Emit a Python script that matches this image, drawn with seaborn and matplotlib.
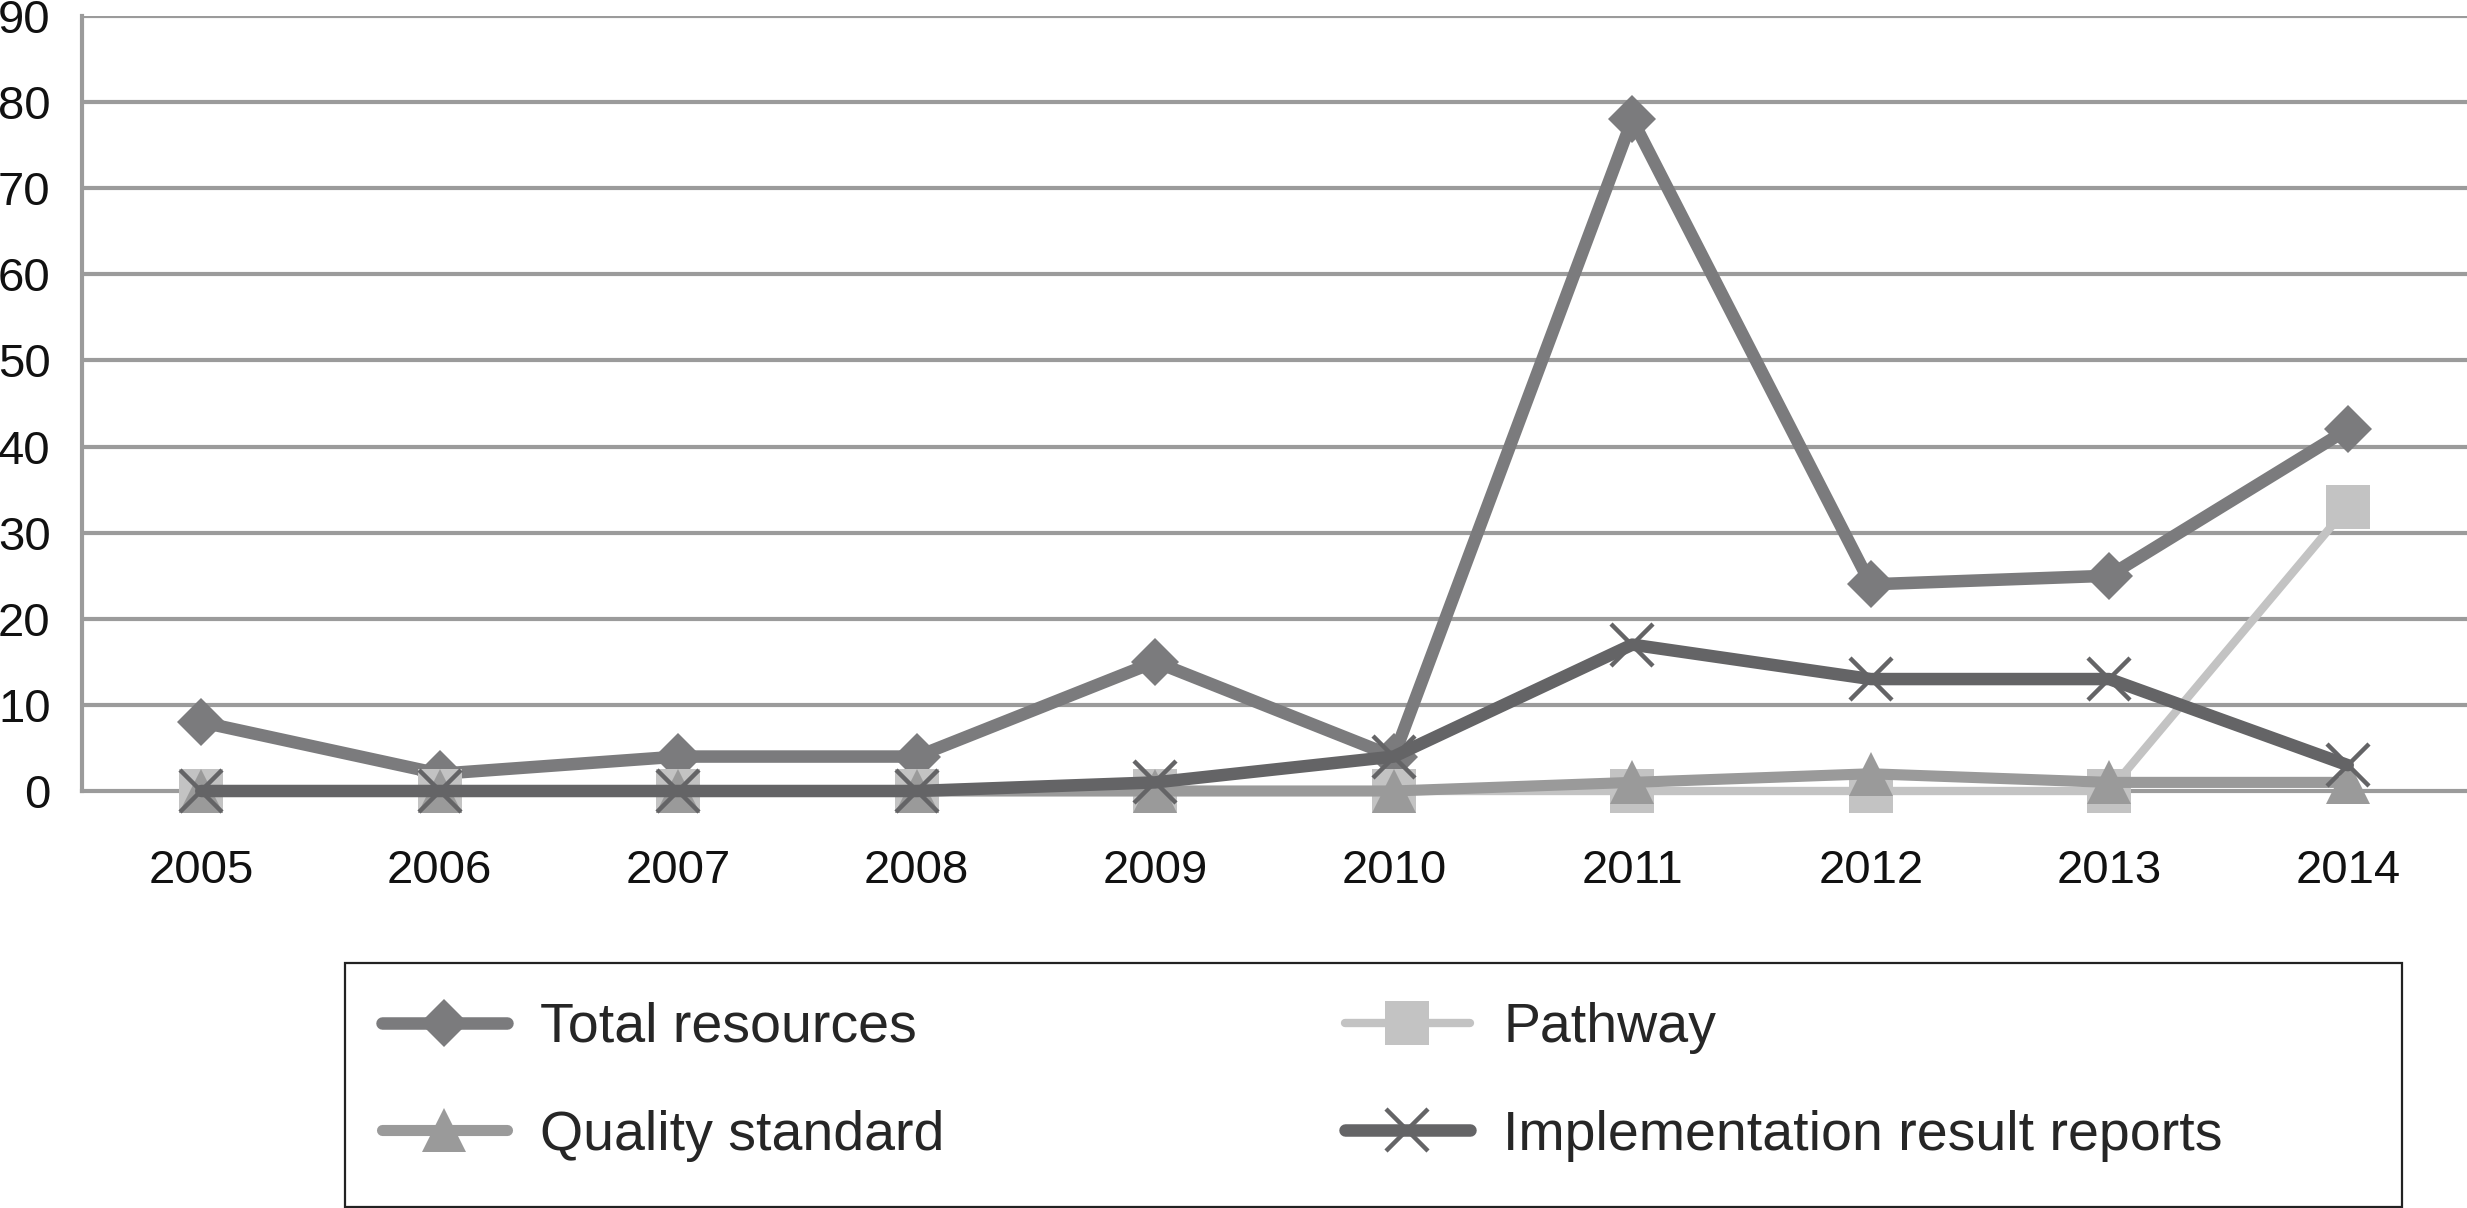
import numpy as np
import pandas as pd
import matplotlib
matplotlib.use("Agg")
import matplotlib.pyplot as plt
from matplotlib.patches import Rectangle
import seaborn as sns

# dados
anos = ["2005", "2006", "2007", "2008", "2009", "2010", "2011", "2012", "2013", "2014"]
total_resources = [8, 2, 4, 4, 15, 4, 78, 24, 25, 42]
pathway = [0, 0, 0, 0, 0, 0, 0, 0, 0, 33]
quality_standard = [0, 0, 0, 0, 0, 0, 1, 2, 1, 1]
implementation_reports = [0, 0, 0, 0, 1, 4, 17, 13, 13, 3]

df = pd.DataFrame({
    "Ano": anos,
    "Total resources": total_resources,
    "Pathway": pathway,
    "Quality standard": quality_standard,
    "Implementation result reports": implementation_reports,
})

sns.set_style("white")
plt.rcParams['font.family'] = ['Liberation Sans', 'DejaVu Sans']

W, H = 2467, 1208
fig = plt.figure(figsize=(W / 100, H / 100), dpi=100)
ax = fig.add_axes([82 / W, (H - 791) / H, 1 - 82 / W, (791 - 16) / H])

grid_cor = "#9b9b9b"
for y in range(10, 100, 10):
    ax.axhline(y, color=grid_cor, lw=3, zorder=0)

# estilo de cada serie
estilos = {
    "Total resources": dict(color="#7b7b7d", marker="D", ms=24, lw=9),
    "Pathway": dict(color="#c3c3c3", marker="s", ms=32, lw=6),
    "Quality standard": dict(color="#9a9a9a", marker="^", ms=31, lw=8),
    "Implementation result reports": dict(color="#646466", marker="x", ms=30, lw=9, mew=3.2),
}

for i, (serie, st) in enumerate(estilos.items()):
    sns.lineplot(data=df, x="Ano", y=serie, ax=ax, color=st["color"], marker=st["marker"],
                 markersize=st["ms"], linewidth=st["lw"], markeredgewidth=st.get("mew", 0),
                 markeredgecolor=st["color"], label=serie, clip_on=False, zorder=3 + i,
                 solid_capstyle="round")

ax.set_xlim(-0.5, 9.5)
ax.set_ylim(0, 90)
ax.set_yticks(range(0, 100, 10))
ax.set_xlabel("")
ax.set_ylabel("")

for s in ["top", "right"]:
    ax.spines[s].set_visible(False)
ax.spines["left"].set_color(grid_cor)
ax.spines["left"].set_linewidth(3)
ax.spines["bottom"].set_color(grid_cor)
ax.spines["bottom"].set_linewidth(3)

ax.tick_params(axis="y", length=11.5, width=3, color=grid_cor, pad=11, labelsize=34, labelcolor="#111111")
ax.tick_params(axis="x", which="major", length=0, pad=42, labelsize=34, labelcolor="#111111")
ax.set_xticks(np.arange(-0.5, 10, 1), minor=True)
ax.tick_params(axis="x", which="minor", length=11, width=3, color=grid_cor, direction="out")

# legenda
handles, labels = ax.get_legend_handles_labels()
ax.get_legend().remove()
ordem = [0, 2, 1, 3]
fig.legend([handles[i] for i in ordem], [labels[i] for i in ordem], ncol=2,
           loc="upper left", bbox_to_anchor=(382 / W, 1 - 1002 / H), frameon=False,
           fontsize=40, handlelength=2.25, handletextpad=0.6, columnspacing=7.2,
           labelspacing=1.0, borderpad=0, borderaxespad=0)
fig.patches.append(Rectangle((345 / W, 1 / H), (2402 - 345) / W, (1207 - 963) / H,
                             transform=fig.transFigure, fill=False, edgecolor="#222222",
                             linewidth=1.6))

plt.savefig("out.png", dpi=100)
